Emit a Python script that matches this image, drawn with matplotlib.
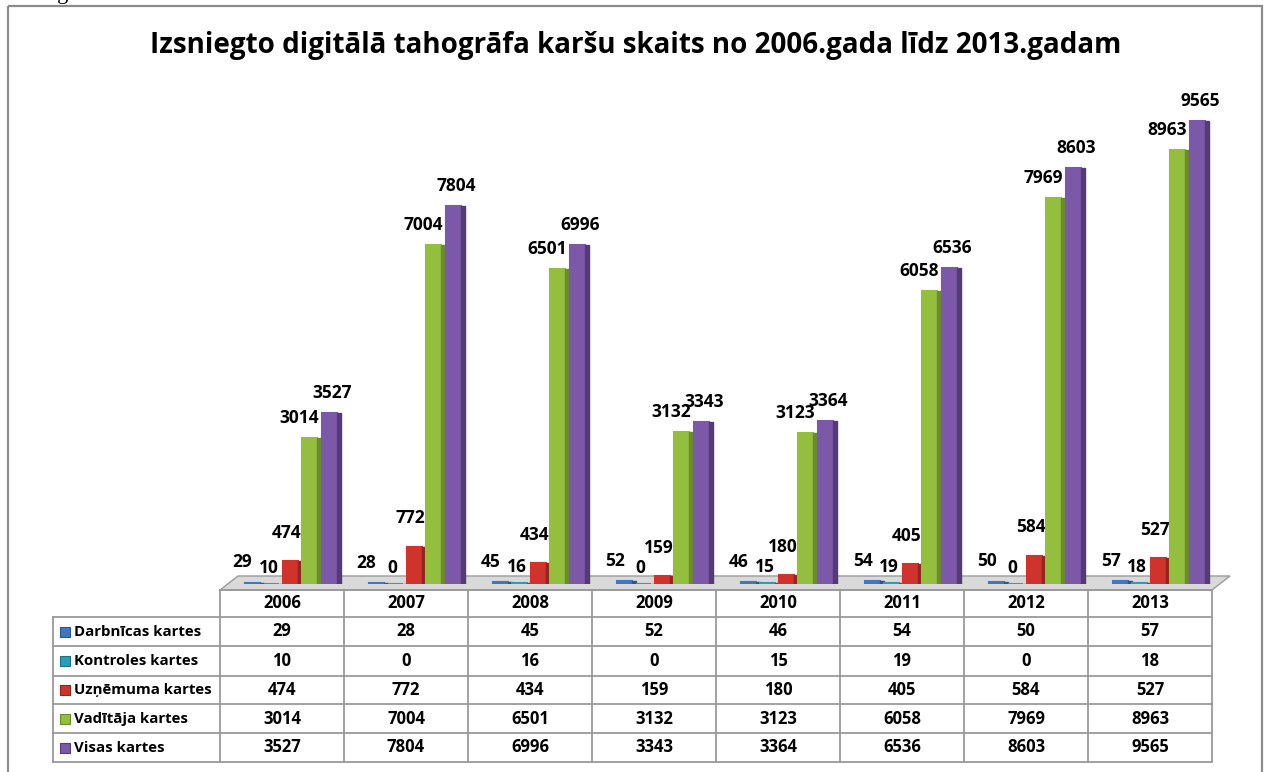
import matplotlib.pyplot as plt
from matplotlib.patches import Polygon, Rectangle
from matplotlib.lines import Line2D

years = ["2006", "2007", "2008", "2009", "2010", "2011", "2012", "2013"]
series_names = ["Darbnīcas kartes", "Kontroles kartes", "Uzņēmuma kartes",
                "Vadītāja kartes", "Visas kartes"]
darbnicas = [29, 28, 45, 52, 46, 54, 50, 57]
kontroles = [10, 0, 16, 0, 15, 19, 0, 18]
uznemuma = [474, 772, 434, 159, 180, 405, 584, 527]
vaditaja = [3014, 7004, 6501, 3132, 3123, 6058, 7969, 8963]
visas = [3527, 7804, 6996, 3343, 3364, 6536, 8603, 9565]
series = [darbnicas, kontroles, uznemuma, vaditaja, visas]

front_colors = ["#3F78C0", "#2A9DB8", "#D0332C", "#93BE3E", "#7C58A8"]
side_colors = ["#2B5790", "#1C6F84", "#922420", "#6A8C2A", "#553A78"]
label_dx = [-7, -2, -3, -8, 2]   # points, horizontal nudge of value labels
label_dy = [8, 5, 14, 8, 8]      # points above the bar top

W, H = 1269, 772
plt.rcParams['font.family'] = ['Open Sans', 'DejaVu Sans']
fig = plt.figure(figsize=(W / 100, H / 100), dpi=100)

# pixel-space canvas for frame, floor and table
cv = fig.add_axes([0, 0, 1, 1])
cv.set_xlim(0, W)
cv.set_ylim(H, 0)
cv.axis("off")

cv.add_patch(Rectangle((8, 6), 1254, 780, fill=False, ec="#8c8c8c", lw=1.6))
cv.text(46, -1, "ng", fontsize=16, family="Liberation Serif", va="baseline")

cv.text(636, 45, "Izsniegto digitālā tahogrāfa karšu skaits no 2006.gada līdz 2013.gadam",
        ha="center", va="center", fontsize=20, fontweight="bold")

# floor
cv.add_patch(Polygon([(220, 590), (1212, 590), (1230, 576), (238, 576)],
                     closed=True, fc="#d9d9d9", ec="#9a9a9a", lw=1))

# table
x_left, x0, x1 = 53, 220, 1212
row_y = [590, 617, 646, 676, 704, 733, 762]
col_w = (x1 - x0) / len(years)
grid = "#9a9a9a"
cv.add_line(Line2D([x0, x1], [row_y[0], row_y[0]], color=grid, lw=1.3))
for y in row_y[1:]:
    cv.add_line(Line2D([x_left, x1], [y, y], color=grid, lw=1.3))
cv.add_line(Line2D([x_left, x_left], [row_y[1], row_y[-1]], color=grid, lw=1.3))
for i in range(len(years) + 1):
    xc = x0 + i * col_w
    cv.add_line(Line2D([xc, xc], [row_y[0], row_y[-1]], color=grid, lw=1.3))

for i, yr in enumerate(years):
    cv.text(x0 + (i + 0.5) * col_w, (row_y[0] + row_y[1]) / 2, yr,
            ha="center", va="center", fontsize=12, fontweight="bold")
for r, (name, vals) in enumerate(zip(series_names, series)):
    yc = (row_y[r + 1] + row_y[r + 2]) / 2
    cv.add_patch(Rectangle((60, yc - 5), 10, 10, fc=front_colors[r], ec=side_colors[r], lw=0.8))
    cv.text(74, yc, name, ha="left", va="center", fontsize=10.8, fontweight="bold")
    for i, v in enumerate(vals):
        cv.text(x0 + (i + 0.5) * col_w, yc, str(v),
                ha="center", va="center", fontsize=12, fontweight="bold")

# bars
ax = fig.add_axes([x0 / W, (H - 584) / H, (x1 - x0) / W, 484 / H])
ax.patch.set_alpha(0)
ax.set_xlim(-0.5, len(years) - 0.5)
ax.set_ylim(0, 10000)
ax.axis("off")

bw = 0.155
side = 0.035
shift = 0.07
xs = list(range(len(years)))
for k, vals in enumerate(series):
    pos = [x + shift + (k - 2) * bw for x in xs]
    ax.bar(pos, vals, width=bw - side, align="center", color=front_colors[k],
           edgecolor=front_colors[k], linewidth=1.5, zorder=3)
    ax.bar([p + (bw - side) / 2 for p in pos], vals, width=side, align="edge",
           color=side_colors[k], edgecolor=side_colors[k], linewidth=1.0, zorder=3)
    for p, v in zip(pos, vals):
        ax.annotate(str(v), (p, v), xytext=(label_dx[k], label_dy[k]),
                    textcoords="offset points",
                    ha="center", va="bottom", fontsize=12.5, fontweight="bold",
                    annotation_clip=False)

fig.savefig("out.png", dpi=100)
